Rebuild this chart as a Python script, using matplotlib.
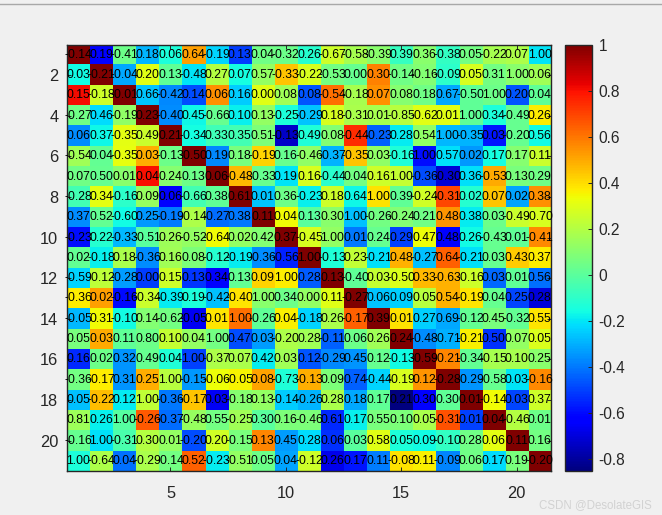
import numpy as np
import matplotlib
matplotlib.use('Agg')
import matplotlib.pyplot as plt
from matplotlib.lines import Line2D

plt.rcParams['font.family'] = ['Liberation Sans', 'DejaVu Sans']
plt.rcParams['axes.unicode_minus'] = False

# colour values, top row first. the text labels in the picture are upside down wrt the colours
corr = [
    [1.00, -.64, .04, -.29, -.14, .52, -.23, -.51, .05, .04, -.12, .26, .17, .11, -.08, .11, -.09, .06, .17, .19, -.20],
    [-.16, 1.00, -.31, .30, .01, -.20, .20, -.15, .13, .45, .28, .06, .03, .58, .05, .09, -.10, .28, .06, .11, .16],
    [.81, .26, 1.00, -.26, -.37, -.48, .55, -.25, .30, .16, -.46, .61, .17, .55, .10, .05, -.31, .01, .04, -.46, .01],
    [.05, -.22, .12, 1.00, -.36, -.17, .03, -.18, .13, -.14, -.26, .28, .18, .17, .21, .30, .30, .01, -.14, .03, .37],
    [-.36, -.17, .31, .25, 1.00, -.15, -.06, -.05, .08, -.73, -.13, .09, .74, -.44, -.19, .12, -.28, -.29, -.58, .03, -.16],
    [.16, .02, .32, .49, .04, 1.00, -.37, .07, .42, .03, .12, -.29, .45, .12, -.13, -.59, -.21, -.34, -.15, .10, .25],
    [.05, .03, .11, .80, .10, .04, 1.00, .47, .03, -.20, .28, -.11, .06, .26, .24, -.48, -.71, -.21, .50, .07, .05],
    [-.05, .31, -.10, .14, -.62, -.05, .01, 1.00, -.26, .04, -.18, .26, -.17, .39, .01, .27, .69, -.12, .45, -.32, .55],
    [-.36, .02, -.16, -.34, -.39, .19, -.42, -.40, 1.00, .34, .00, .11, -.27, .06, .09, .05, .54, -.19, .04, .25, .28],
    [-.59, -.12, -.28, .00, .15, .13, .34, .13, .09, 1.00, .28, .13, -.40, .03, -.50, .33, -.63, -.16, .03, .01, .56],
    [.02, -.18, .18, -.36, .16, .08, -.12, -.19, -.36, -.56, 1.00, -.13, .23, -.21, .48, -.27, .64, -.21, .03, .43, .37],
    [-.23, .22, -.33, -.51, .26, -.52, -.64, .02, .42, .37, -.45, 1.00, .01, .24, .29, .47, .48, .26, -.43, .01, -.41],
    [.37, .52, -.60, .25, -.19, -.14, -.27, .38, .11, .04, .13, .30, 1.00, -.26, -.24, .21, .48, .38, .03, -.49, -.70],
    [-.28, .34, -.16, .09, .06, -.66, .38, .61, .01, .36, -.23, .18, .64, 1.00, .39, -.24, -.31, .02, .07, .02, .38],
    [.07, .50, .01, .04, .24, .13, .06, -.48, -.33, .19, .16, -.44, .04, .16, 1.00, -.36, -.30, .36, -.53, .13, .29],
    [-.54, .04, -.35, .03, -.13, -.50, .19, .18, -.19, .16, -.46, -.37, -.35, .03, -.16, 1.00, .57, .02, .17, .17, .11],
    [.06, .37, -.35, .49, .21, -.34, .33, .35, .51, -.13, .49, .08, -.44, -.23, .28, .54, 1.00, -.35, .03, -.20, .56],
    [-.27, .46, -.19, .23, -.40, .45, -.66, .10, .13, -.25, -.29, .18, -.31, .01, -.85, -.62, .01, 1.00, .34, -.49, .26],
    [.15, -.18, -.01, .66, -.42, .14, .06, .16, .00, .08, .08, -.54, -.18, .07, .08, .18, .67, -.50, 1.00, .20, .04],
    [.03, -.21, -.04, .20, .13, -.48, .27, .07, .57, -.33, -.22, -.53, .00, .30, -.14, -.16, -.09, .05, .31, 1.00, .06],
    [-.14, .19, -.41, .18, .06, .64, -.19, .13, .04, -.32, .26, -.67, -.58, -.39, .39, .36, -.38, .05, -.22, .07, 1.00],
]
x_ticks = [5, 10, 15, 20]
y_ticks = [2, 4, 6, 8, 10, 12, 14, 16, 18, 20]
cbar_ticks = [-0.8, -0.6, -0.4, -0.2, 0, 0.2, 0.4, 0.6, 0.8, 1]
cbar_labels = ['-0.8', '-0.6', '-0.4', '-0.2', '0', '0.2', '0.4', '0.6', '0.8', '1']

W, H = 662, 515
DARK = '#262626'
corr = np.array(corr)
n = corr.shape[0]

fig = plt.figure(figsize=(W / 100, H / 100), dpi=100, facecolor='#f0f0f0')
ax = fig.add_axes([66.6 / W, 1 - 471 / H, (551.3 - 66.6) / W, (471 - 44.7) / H])
cax = fig.add_axes([565.3 / W, 1 - 470.7 / H, (591.7 - 565.3) / W, (470.7 - 44.7) / H])

im = ax.imshow(corr, cmap='jet', vmin=-0.85, vmax=1, aspect='auto',
               extent=(0.5, n + 0.5, n + 0.5, 0.5), interpolation='nearest')

# labels come out flipped vertically, same as in the original figure
for i in range(n):
    for j in range(n):
        ax.text(j + 1, n - i, f'{corr[i, j]:.2f}', ha='center', va='center',
                fontsize=8.7, color='black', clip_on=False)

ax.set_xticks(x_ticks)
ax.set_yticks(y_ticks)
ax.tick_params(direction='in', length=3, width=0.7, color=DARK, labelcolor=DARK,
               labelsize=11.8, top=True, right=True, pad=6)
ax.tick_params(axis='x', pad=11)
for s in ax.spines.values():
    s.set_color(DARK)
    s.set_linewidth(1)

cb = fig.colorbar(im, cax=cax, ticks=cbar_ticks)
cb.ax.set_yticklabels(cbar_labels)
cb.ax.tick_params(direction='in', length=3, width=0.7, color=DARK, labelcolor=DARK,
                  labelsize=11.2, pad=5)
cb.outline.set_edgecolor(DARK)
cb.outline.set_linewidth(1)

# window edge left in the screenshot
fig.add_artist(Line2D([0, 1], [1 - 3.5 / H, 1 - 3.5 / H], color='#a8a8a8', lw=1))
fig.text(652 / W, 1 - 505 / H, 'CSDN @DesolateGIS', ha='right', va='center',
         fontsize=8.3, color='#d2d2d2')

fig.savefig('out.png', dpi=100, facecolor=fig.get_facecolor())
